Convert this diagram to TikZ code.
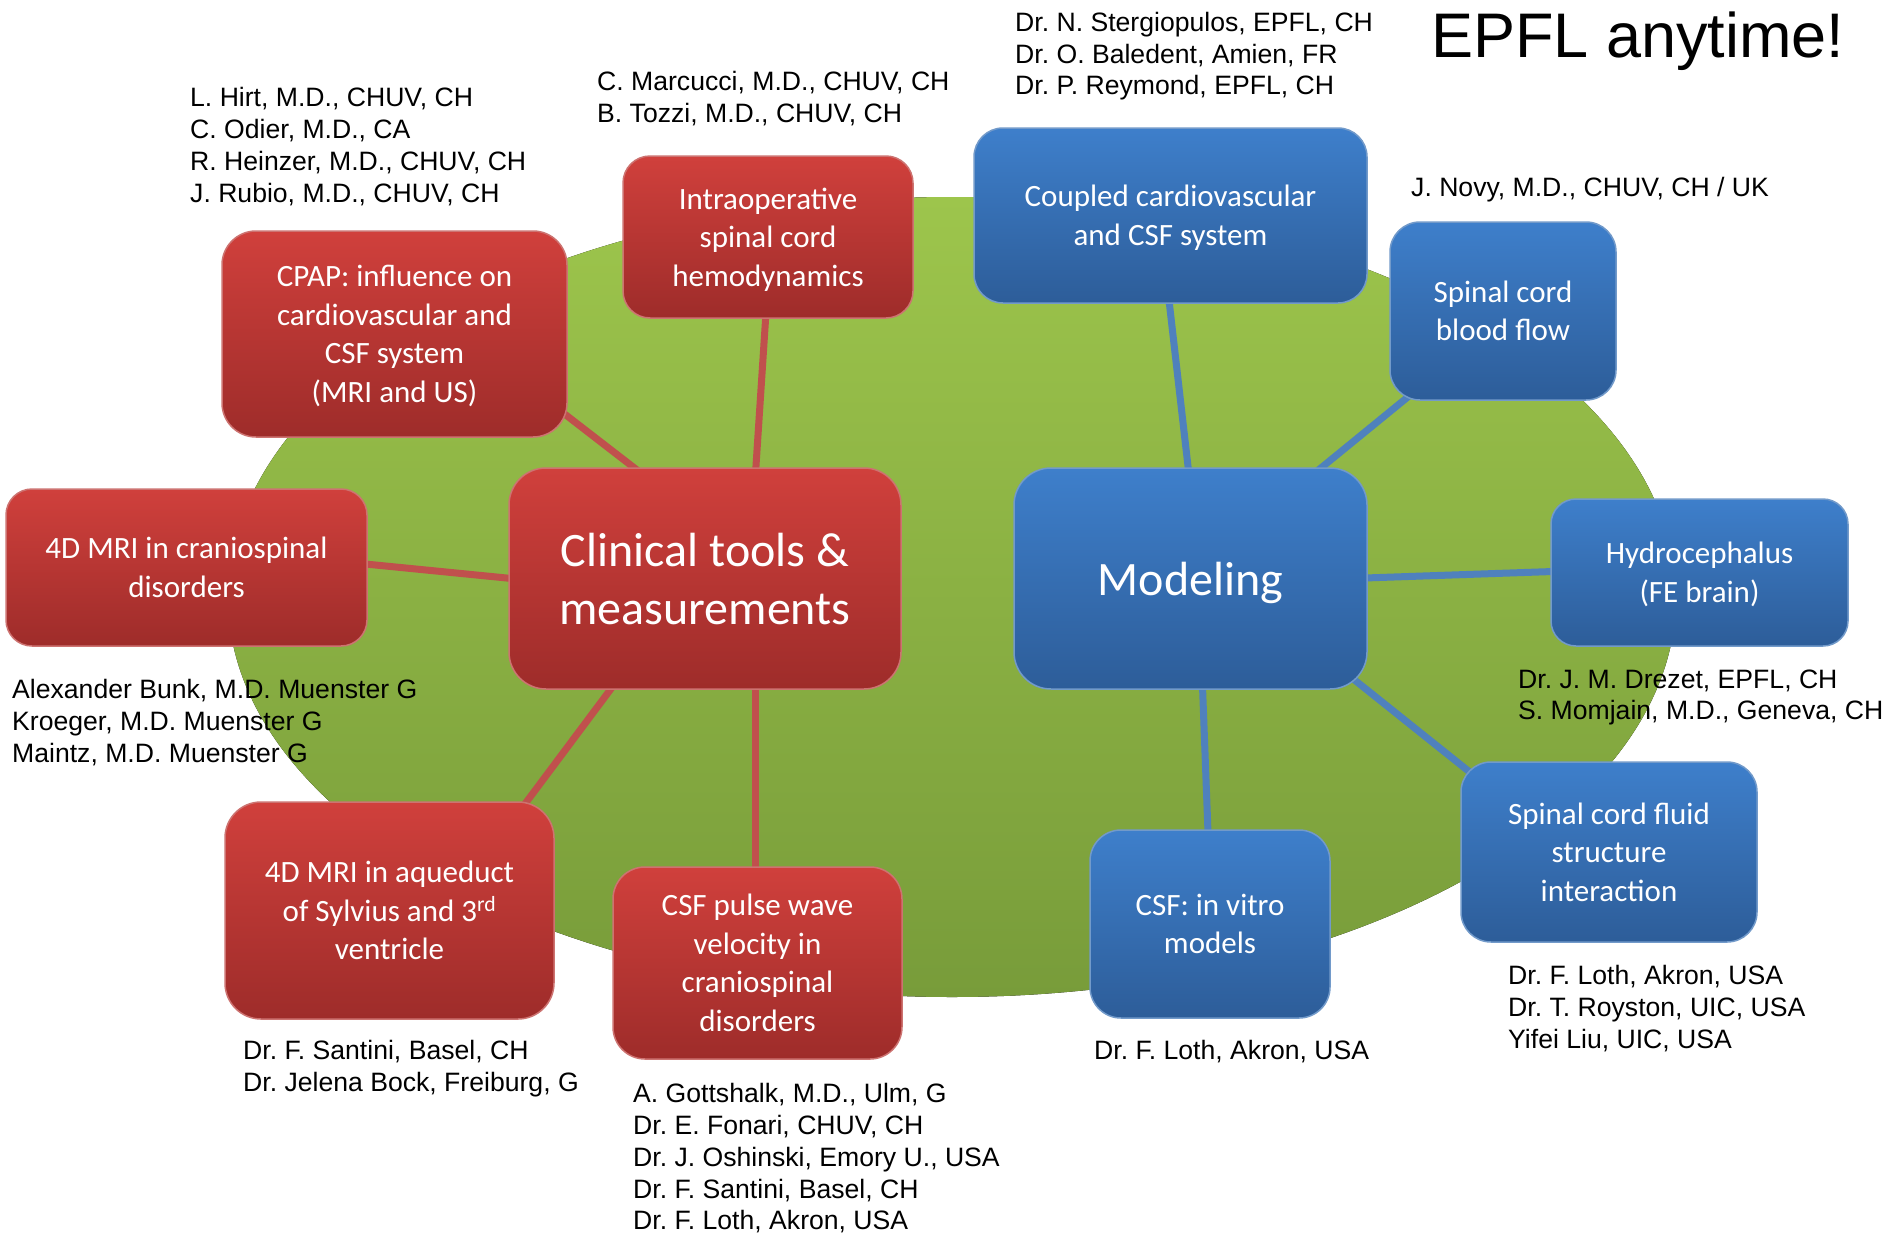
\documentclass[tikz,border=0pt]{standalone}
\usepackage{fontspec}
\setmainfont{Liberation Sans}
\newfontfamily\boxfont{Carlito}
\usetikzlibrary{calc}
\frenchspacing

\definecolor{redline}{RGB}{192,80,77}
\definecolor{blueline}{RGB}{79,129,189}
\definecolor{redtop}{RGB}{208,64,60}
\definecolor{redbot}{RGB}{158,44,42}
\definecolor{bluetop}{RGB}{62,127,203}
\definecolor{bluebot}{RGB}{45,93,153}
\definecolor{greentop}{RGB}{157,197,76}
\definecolor{greenbot}{RGB}{120,156,58}

\pgfdeclarelayer{ellipselayer}
\pgfdeclarelayer{linklayer}
\pgfsetlayers{ellipselayer,linklayer,main}

% struts fixing the vertical placement of box texts
\newcommand\tsml{\rule{0pt}{30pt}}
\newcommand\bsml{\rule[-9pt]{0pt}{9pt}}
\newcommand\tbig{\rule{0pt}{46pt}}
\newcommand\bbig{\rule[-13pt]{0pt}{13pt}}

\begin{document}
\begin{tikzpicture}[x=1pt,y=-1pt,
  boxbase/.style={shape=rectangle, inner sep=0pt, align=center, text=white,
    font=\boxfont\fontsize{31}{38.5}\selectfont, line width=1.5pt},
  redbox/.style={boxbase, draw=redline!80!white, top color=redtop, bottom color=redbot},
  bluebox/.style={boxbase, draw=blueline!80!white, top color=bluetop, bottom color=bluebot},
  bigtext/.style={font=\boxfont\fontsize{48}{58}\selectfont},
  redcon/.style={draw=redline, line width=7pt},
  bluecon/.style={draw=blueline, line width=7pt},
  names/.style={anchor=north west, align=left, inner sep=0pt, font=\fontsize{26.6}{31.7}\selectfont}
]
\useasboundingbox (0,0) rectangle (1885,1234);

\begin{pgfonlayer}{ellipselayer}
\fill[white] (0,0) rectangle (1885,1234);
\fill[top color=greentop, bottom color=greenbot] (952,597) ellipse [x radius=724pt, y radius=400pt];
\end{pgfonlayer}

% boxes
\node[redbox, minimum width=345pt, minimum height=206pt, rounded corners=34pt] (cpap) at (394.5,334)
  {\tsml CPAP: influence on\\cardiovascular and\\CSF system\\(MRI and US)\bsml};
\node[redbox, minimum width=290pt, minimum height=162pt, rounded corners=27pt] (intra) at (768,237)
  {\tsml Intraoperative\\spinal cord\\hemodynamics\bsml};
\node[redbox, minimum width=361pt, minimum height=157pt, rounded corners=26pt] (cranio) at (186.5,567.5)
  {\tsml 4D MRI in craniospinal\\disorders\bsml};
\node[redbox, bigtext, minimum width=392pt, minimum height=221pt, rounded corners=37pt] (clin) at (705,578.5)
  {\tbig Clinical tools \&\\measurements\bbig};
\node[redbox, minimum width=329pt, minimum height=217pt, rounded corners=36pt] (aque) at (389.5,910.5)
  {\tsml 4D MRI in aqueduct\\of Sylvius and 3\textsuperscript{rd}\\ventricle\bsml};
\node[redbox, minimum width=289pt, minimum height=192pt, rounded corners=32pt] (pulse) at (757.5,963)
  {\tsml CSF pulse wave\\velocity in\\craniospinal\\disorders\bsml};
\node[bluebox, minimum width=393pt, minimum height=175pt, rounded corners=29pt] (coupled) at (1170.5,215.5)
  {\tsml Coupled cardiovascular\\and CSF system\bsml};
\node[bluebox, minimum width=226pt, minimum height=178pt, rounded corners=30pt] (flow) at (1503,311)
  {\tsml Spinal cord\\blood flow\bsml};
\node[bluebox, bigtext, minimum width=353pt, minimum height=221pt, rounded corners=37pt] (model) at (1190.5,578.5)
  {\tbig Modeling\bbig};
\node[bluebox, minimum width=297pt, minimum height=147pt, rounded corners=25pt] (hydro) at (1699.5,572.5)
  {\tsml Hydrocephalus\\(FE brain)\bsml};
\node[bluebox, minimum width=296pt, minimum height=180pt, rounded corners=30pt] (fluid) at (1609,852)
  {\tsml Spinal cord fluid\\structure\\interaction\bsml};
\node[bluebox, minimum width=240pt, minimum height=188pt, rounded corners=31pt] (vitro) at (1210,924)
  {\tsml CSF: in vitro\\models\bsml};

% connectors, behind the boxes
\begin{pgfonlayer}{linklayer}
\draw[redcon] ($(clin.north west)+(133,6)$) -- ($(cpap.north east)+(-8,180)$);
\draw[redcon] ($(clin.north west)+(247,10)$) -- ($(intra.south west)+(144,-10)$);
\draw[redcon] ($(clin.north west)+(11,112)$) -- ($(cranio.north east)+(-10,75)$);
\draw[redcon] ($(clin.south west)+(108,-8)$) -- ($(aque.north west)+(296,9)$);
\draw[redcon] ($(clin.south west)+(247,-10)$) -- ($(pulse.north west)+(143,10)$);
\draw[bluecon] ($(model.north west)+(176,10)$) -- ($(coupled.south west)+(195,-10)$);
\draw[bluecon] ($(model.north west)+(300,7)$) -- ($(flow.south west)+(25,-9)$);
\draw[bluecon] ($(model.north east)+(-10,111)$) -- ($(hydro.north west)+(10,73)$);
\draw[bluecon] ($(model.south east)+(-21,-16)$) -- ($(fluid.north west)+(16,16)$);
\draw[bluecon] ($(model.south west)+(189,-10)$) -- ($(vitro.north west)+(119,10)$);
\end{pgfonlayer}

% title
\node[anchor=base west, inner sep=0pt, font=\fontsize{63}{66}\selectfont] (title) at (1431,57) {EPFL anytime!};

% collaborator names
\node[names] (nhirt) at (190,87.5) {L. Hirt, M.D., CHUV, CH\\C. Odier, M.D., CA\\R. Heinzer, M.D., CHUV, CH\\J. Rubio, M.D., CHUV, CH};
\node[names] (nmarc) at (597,71) {C. Marcucci, M.D., CHUV, CH\\B. Tozzi, M.D., CHUV, CH};
\node[names] (nster) at (1015,12) {Dr. N. Stergiopulos, EPFL, CH\\Dr. O. Baledent, Amien, FR\\Dr. P. Reymond, EPFL, CH};
\node[names] (nnovy) at (1411,177) {J. Novy, M.D., CHUV, CH / UK};
\node[names] (nbunk) at (12,679.5) {Alexander Bunk, M.D. Muenster G\\Kroeger, M.D. Muenster G\\Maintz, M.D. Muenster G};
\node[names] (nsant) at (243,1040) {Dr. F. Santini, Basel, CH\\Dr. Jelena Bock, Freiburg, G};
\node[names] (ngott) at (633,1083.5) {A. Gottshalk, M.D., Ulm, G\\Dr. E. Fonari, CHUV, CH\\Dr. J. Oshinski, Emory U., USA\\Dr. F. Santini, Basel, CH\\Dr. F. Loth, Akron, USA};
\node[names] (nloth) at (1094,1040) {Dr. F. Loth, Akron, USA};
\node[names] (nroys) at (1508,965.5) {Dr. F. Loth, Akron, USA\\Dr. T. Royston, UIC, USA\\Yifei Liu, UIC, USA};
\node[names] (ndrez) at (1518,669.5) {Dr. J. M. Drezet, EPFL, CH\\S. Momjain, M.D., Geneva, CH};
\end{tikzpicture}
\end{document}
